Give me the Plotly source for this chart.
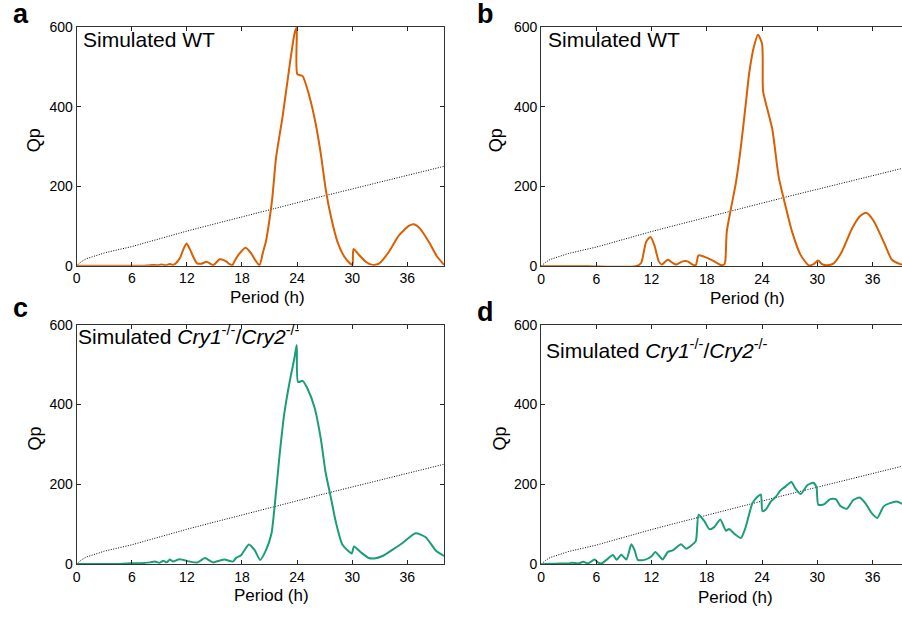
import plotly.graph_objects as go

W, H = 902, 620

# ---------------- data ----------------
period_a = [0, 3, 6, 7.3, 8.0, 8.35, 8.8, 9.25, 9.7, 10.15, 10.5, 10.8, 11.24, 11.6, 11.96, 12.3,
            12.68, 13.1, 13.6, 14.13, 14.5, 14.85, 15.2, 15.57, 16.0, 16.3, 16.65, 16.95, 17.2,
            17.74, 18.4, 19.0, 19.5, 19.9, 20.3, 20.6, 21.0, 21.3, 21.71, 22.44, 23.17, 23.71,
            23.96, 24.02, 24.6, 25.33, 26.05, 26.59, 27.13, 27.67, 28.4, 29.13, 29.84, 30.03,
            30.14, 30.75, 31.47, 32.2, 32.92, 34.0, 35.09, 36.17, 36.72, 37.43, 38.34, 39.24, 40.0]
qp_a = [0, 0, 0, 0, 1, 2, 1, 3, 1, 4, 2, 6, 19, 40, 56, 43,
        23, 6, 5, 10, 6, 1, 8, 16, 14, 10, 4, 1, 12,
        31, 45, 31, 12, 1, 35, 60, 117, 170, 272, 378, 501, 583,
        600, 482, 477, 427, 354, 280, 190, 125, 60, 23, 4, 2,
        42, 27, 10, 2, 5, 35, 76, 100, 104, 92, 60, 23, 2]

period_b = [0, 5, 10.3, 10.86, 11.4, 11.87, 12.3, 12.78, 13.1, 13.75, 14.3, 14.65, 15.37, 15.9,
            16.45, 16.8, 17.1, 17.9, 18.8, 19.5, 19.87, 20.0, 20.16, 20.6, 21.14, 21.68, 22.2, 22.6,
            23.1, 23.55, 24.0, 24.1, 24.56, 25.1, 25.8, 26.54, 27.26, 28.16, 29.06, 29.6, 30.07,
            30.5, 31.05, 31.77, 32.67, 33.75, 34.65, 35.3, 36.1, 37.2, 38.1, 39.0, 39.2]
qp_b = [0, 0, 0, 8, 61, 73, 53, 12, 4, 16, 8, 4, 12, 12,
        4, 3, 27, 22, 12, 3, 4, 12, 86, 143, 208, 297, 403, 485,
        550, 581, 558, 440, 395, 345, 224, 151, 86, 29, 2, 5, 14,
        5, 2, 7, 37, 94, 126, 134, 114, 61, 16, 5, 4]

period_c = [0, 4.7, 6, 7, 8, 8.53, 9.0, 9.43, 9.8, 10.15, 10.5, 11.2, 12.3, 13.2, 13.95, 14.85,
            15.5, 16.1, 17.0, 17.4, 17.9, 18.75, 19.4, 19.98, 20.6, 21.2, 21.5, 22.08, 22.6, 23.2,
            23.7, 23.96, 24.1, 24.6, 25.1, 25.9, 26.6, 27.1, 27.7, 28.2, 28.9, 29.7, 29.96, 30.2,
            30.9, 31.8, 32.4, 33.3, 34.4, 35.45, 36.9, 38.0, 39.1, 40.0]
qp_c = [0, 0, 2, 2, 4, 6, 3, 8, 4, 11, 6, 12, 6, 4, 15, 4,
        8, 11, 6, 16, 22, 49, 34, 10, 34, 75, 132, 270, 376, 458,
        515, 549, 456, 459, 441, 392, 311, 230, 164, 107, 50, 30, 26, 44,
        30, 15, 14, 20, 36, 52, 77, 67, 34, 20]

period_d = [0, 1, 2, 3, 3.3, 4.0, 4.6, 5.1, 5.8, 6.2, 6.56, 7.1, 7.8, 8.2, 8.7, 9.26, 9.8, 10.16,
            10.5, 11.24, 12.0, 12.4, 12.9, 13.2, 13.77, 14.3, 15.2, 15.75, 16.3, 16.8, 17.1, 17.73,
            18.27, 18.8, 19.46, 20.07, 20.4, 21.0, 21.7, 22.2, 22.95, 23.5, 23.86, 24.04, 24.4,
            24.94, 25.5, 26.0, 26.56, 27.17, 27.64, 28.2, 28.9, 29.55, 29.9, 30.1, 30.7, 31.4,
            32.0, 32.5, 33.2, 33.9, 34.6, 35.2, 35.9, 36.5, 37.2, 37.9, 38.6, 39.2]
qp_d = [0, 1, 2, 2, 4, 2, 6, 2, 12, 4, 2, 11, 23, 11, 24, 12, 50, 35,
        11, 11, 20, 31, 19, 12, 31, 35, 50, 39, 47, 58, 124, 108,
        88, 93, 112, 84, 88, 76, 66, 92, 153, 169, 175, 133, 137,
        157, 169, 185, 195, 206, 189, 176, 198, 204, 193, 149, 150, 163,
        163, 146, 139, 161, 167, 153, 128, 116, 145, 153, 157, 151]

period_thr = [0, 0.5, 1, 2, 3, 6, 9, 12, 15, 18, 21, 24, 27, 30, 33, 36, 40]
qp_thr = [0, 10, 17, 25, 32, 48, 68, 87, 105, 123, 140, 158, 176, 193, 210, 227, 250]

x_ticks = [0, 6, 12, 18, 24, 30, 36]
y_ticks = [0, 200, 400, 600]

ORANGE = "#d95f02"
GREEN = "#1b9e77"
FONT = "Liberation Sans, Arial, sans-serif"

panels = [
    # name, x, y, color, xdomain px, ydomain px (top,bottom), xmax, mirror_y
    ("a", period_a, qp_a, ORANGE, (73, 442), (19.7, 264.5), 40.0, True),
    ("b", period_b, qp_b, ORANGE, (539.5, 902), (19.7, 265.0), 39.19, False),
    ("c", period_c, qp_c, GREEN, (73, 442), (325, 570.7), 40.0, True),
    ("d", period_d, qp_d, GREEN, (539.5, 902), (325, 571.0), 39.19, False),
]

fig = go.Figure()
layout = {}
for i, (name, xs, ys, col, (x0, x1), (yt, yb), xmax, mir) in enumerate(panels):
    k = "" if i == 0 else str(i + 1)
    xa, ya = "x" + k, "y" + k
    fig.add_trace(go.Scatter(x=period_thr, y=qp_thr, mode="lines", xaxis=xa, yaxis=ya,
                             line=dict(color="black", width=1, dash="1px,1.5px"),
                             showlegend=False))
    fig.add_trace(go.Scatter(x=xs, y=ys, mode="lines", xaxis=xa, yaxis=ya,
                             line=dict(color=col, width=2, shape="spline", smoothing=0.6),
                             showlegend=False))
    common = dict(showgrid=False, zeroline=False, showline=True, linecolor="#333333",
                  linewidth=1, ticks="inside", ticklen=4, tickcolor="#222222", tickwidth=1,
                  tickfont=dict(family=FONT, size=14, color="black"))
    layout["xaxis" + k] = dict(domain=[x0 / W, x1 / W], range=[0, xmax], tickvals=x_ticks,
                               anchor=ya, mirror="ticks", **common)
    layout["yaxis" + k] = dict(domain=[1 - yb / H, 1 - yt / H], range=[0, 600], tickvals=y_ticks,
                               anchor=xa, mirror="ticks" if mir else False, **common)

fig.update_layout(**layout)

def ann(text, px, py, size, xanchor="center", yanchor="middle", angle=0, bold=False):
    if bold:
        text = "<b>" + text + "</b>"
    fig.add_annotation(text=text, x=px / W, y=1 - py / H, xref="paper", yref="paper",
                       xanchor=xanchor, yanchor=yanchor, showarrow=False, textangle=angle,
                       borderpad=0,
                       font=dict(family=FONT, size=size, color="black"))

# panel letters
ann("a", 17, 6, 27, bold=True)
ann("b", 484, 6, 27, bold=True)
ann("c", 17, 308, 27, bold=True)
ann("d", 484, 312, 27, bold=True)

# inset titles
ann("Simulated WT", 78, 32, 21, xanchor="left")
ann("Simulated WT", 545, 32, 21, xanchor="left")
cry = "Simulated <i>Cry1</i><sup>-/-</sup>/<i>Cry2</i><sup>-/-</sup>"
ann(cry, 73, 336, 21, xanchor="left")
ann(cry, 543, 350, 21, xanchor="left")

# axis titles
for (qx, qy) in [(31, 136), (495, 136), (31, 442), (498, 442)]:
    ann("Qp", qx, qy, 18, angle=-90)
for (px_, py_) in [(265, 297), (747, 298), (269, 603), (735, 605)]:
    ann("Period (h)", px_, py_, 17)

fig.update_layout(width=W, height=H, margin=dict(l=0, r=0, t=0, b=0),
                  paper_bgcolor="white", plot_bgcolor="white", showlegend=False)

fig.write_html("out.html")
